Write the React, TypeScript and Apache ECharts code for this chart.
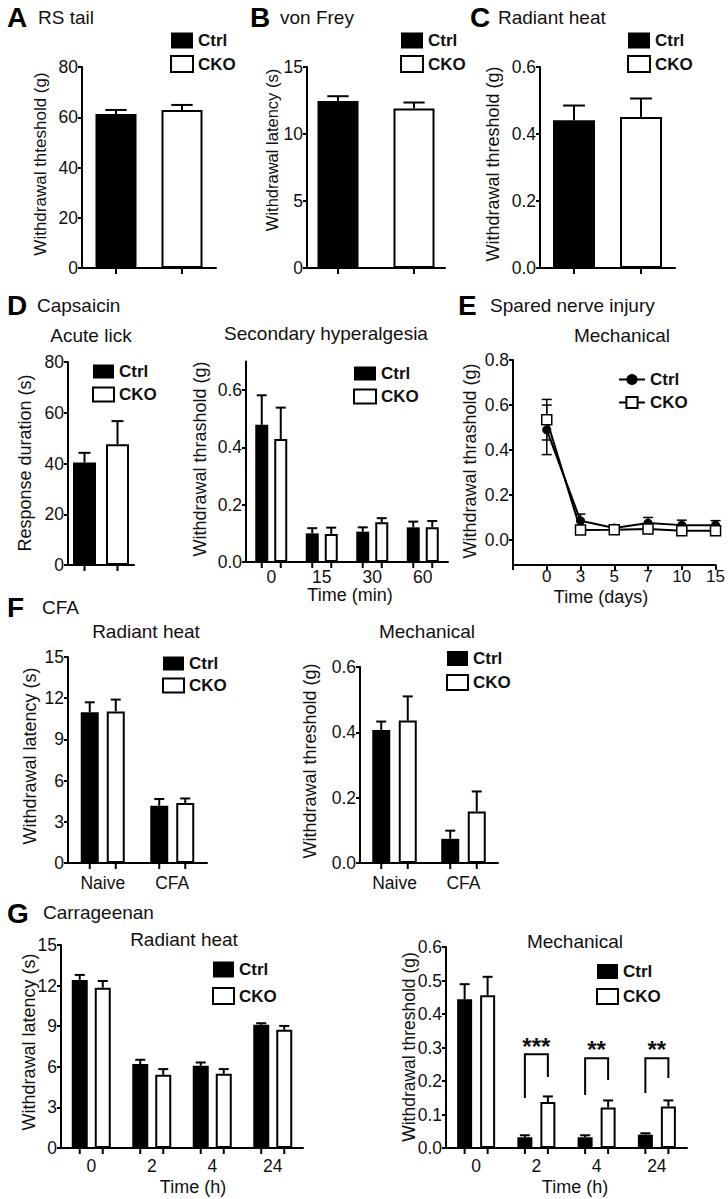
import React, { useEffect, useRef } from "react";
import * as echarts from "echarts";

const FONT = '"Liberation Sans", Arial, Helvetica, sans-serif';
const INK = "#111";

// ---------------- data ----------------
// A  RS tail
const rsTailCtrl = [61.3];
const rsTailCtrlSem = [1.6];
const rsTailCko = [62.9];
const rsTailCkoSem = [2.0];
// B  von Frey
const vonFreyCtrl = [12.47];
const vonFreyCtrlSem = [0.35];
const vonFreyCko = [11.9];
const vonFreyCkoSem = [0.45];
// C  Radiant heat
const radiantCtrl = [0.441];
const radiantCtrlSem = [0.044];
const radiantCko = [0.451];
const radiantCkoSem = [0.055];
// D  Capsaicin - acute lick
const lickCtrl = [40.4];
const lickCtrlSem = [3.8];
const lickCko = [47.6];
const lickCkoSem = [9.1];
// D  Capsaicin - secondary hyperalgesia
const secMinutes = ["0", "15", "30", "60"];
const secCtrl = [0.479, 0.1, 0.106, 0.121];
const secCtrlSem = [0.103, 0.018, 0.015, 0.02];
const secCko = [0.429, 0.098, 0.139, 0.121];
const secCkoSem = [0.11, 0.022, 0.014, 0.022];
// E  Spared nerve injury
const sniDays = ["0", "3", "5", "7", "10", "15"];
const sniCtrl = [0.49, 0.086, 0.054, 0.076, 0.067, 0.067];
const sniCtrlSem = [0.11, 0.03, 0.01, 0.025, 0.022, 0.02];
const sniCko = [0.535, 0.045, 0.047, 0.05, 0.042, 0.042];
const sniCkoSem = [0.09, 0.01, 0.01, 0.01, 0.01, 0.01];
// F  CFA
const cfaConditions = ["Naive", "CFA"];
const cfaHeatCtrl = [10.97, 4.17];
const cfaHeatCtrlSem = [0.73, 0.49];
const cfaHeatCko = [11.04, 4.37];
const cfaHeatCkoSem = [0.86, 0.33];
const cfaMechCtrl = [0.407, 0.074];
const cfaMechCtrlSem = [0.026, 0.025];
const cfaMechCko = [0.436, 0.158];
const cfaMechCkoSem = [0.074, 0.061];
// G  Carrageenan
const carrHours = ["0", "2", "4", "24"];
const carrHeatCtrl = [12.42, 6.2, 6.07, 9.1];
const carrHeatCtrlSem = [0.37, 0.32, 0.25, 0.12];
const carrHeatCko = [11.85, 5.41, 5.48, 8.73];
const carrHeatCkoSem = [0.49, 0.42, 0.35, 0.29];
const carrMechCtrl = [0.444, 0.032, 0.032, 0.04];
const carrMechCtrlSem = [0.045, 0.006, 0.006, 0.004];
const carrMechCko = [0.456, 0.137, 0.121, 0.124];
const carrMechCkoSem = [0.055, 0.017, 0.021, 0.018];
// significance brackets (G, mechanical)
const sigCategory = [1, 2, 3];
const sigLabels = ["***", "**", "**"];
const sigLeftBase = [0.149, 0.158, 0.164];
const sigTop = [0.28, 0.268, 0.268];
const sigRightBase = [0.212, 0.203, 0.209];
const sigTextY = [0.316, 0.307, 0.307];

// ---------------- layout ----------------
interface BarPanel {
  cats: string[];
  showCats: boolean;
  ctrl: number[];
  ctrlSem: number[];
  cko: number[];
  ckoSem: number[];
  x0: number;
  x1: number;
  yTop: number;
  yBot: number;
  min: number;
  max: number;
  interval?: number;
  ticks?: number[];
  dec: number;
  barW: number;
  gap: number;
  labelMargin: number;
  legend: number[]; // left, top, itemW, itemH, itemGap
}

const barPanels: BarPanel[] = [
  { cats: [""], showCats: false, ctrl: rsTailCtrl, ctrlSem: rsTailCtrlSem, cko: rsTailCko, ckoSem: rsTailCkoSem,
    x0: 82, x1: 216, yTop: 67, yBot: 268, min: 0, max: 80, interval: 20, dec: 0, barW: 41, gap: 25, labelMargin: 8,
    legend: [170, 32, 22, 16, 6] },
  { cats: [""], showCats: false, ctrl: vonFreyCtrl, ctrlSem: vonFreyCtrlSem, cko: vonFreyCko, ckoSem: vonFreyCkoSem,
    x0: 307, x1: 445, yTop: 67, yBot: 268, min: 0, max: 15, interval: 5, dec: 0, barW: 41, gap: 35, labelMargin: 8,
    legend: [400, 32, 22, 16, 6] },
  { cats: [""], showCats: false, ctrl: radiantCtrl, ctrlSem: radiantCtrlSem, cko: radiantCko, ckoSem: radiantCkoSem,
    x0: 540, x1: 675, yTop: 67, yBot: 268, min: 0, max: 0.6, interval: 0.2, dec: 1, barW: 42, gap: 25, labelMargin: 8,
    legend: [627, 32, 22, 16, 6] },
  { cats: [""], showCats: false, ctrl: lickCtrl, ctrlSem: lickCtrlSem, cko: lickCko, ckoSem: lickCkoSem,
    x0: 68, x1: 134, yTop: 362, yBot: 565, min: 0, max: 80, interval: 20, dec: 0, barW: 23, gap: 10, labelMargin: 8,
    legend: [92, 363, 21, 14, 6] },
  { cats: secMinutes, showCats: true, ctrl: secCtrl, ctrlSem: secCtrlSem, cko: secCko, ckoSem: secCkoSem,
    x0: 246, x1: 448, yTop: 361.5, yBot: 562, min: 0, max: 0.7, ticks: [0, 0.2, 0.4, 0.6], dec: 1, barW: 13, gap: 6,
    labelMargin: 6, legend: [353, 365, 22, 14, 6] },
  { cats: cfaConditions, showCats: true, ctrl: cfaHeatCtrl, ctrlSem: cfaHeatCtrlSem, cko: cfaHeatCko, ckoSem: cfaHeatCkoSem,
    x0: 68, x1: 207, yTop: 657, yBot: 863, min: 0, max: 15, interval: 3, dec: 0, barW: 18, gap: 8, labelMargin: 11,
    legend: [162, 655, 21, 14, 5] },
  { cats: cfaConditions, showCats: true, ctrl: cfaMechCtrl, ctrlSem: cfaMechCtrlSem, cko: cfaMechCko, ckoSem: cfaMechCkoSem,
    x0: 360, x1: 498, yTop: 667, yBot: 863, min: 0, max: 0.6, interval: 0.2, dec: 1, barW: 18, gap: 8.5, labelMargin: 11,
    legend: [446, 650, 21, 15, 7] },
  { cats: carrHours, showCats: true, ctrl: carrHeatCtrl, ctrlSem: carrHeatCtrlSem, cko: carrHeatCko, ckoSem: carrHeatCkoSem,
    x0: 61, x1: 303, yTop: 945, yBot: 1148, min: 0, max: 15, interval: 3, dec: 0, barW: 16, gap: 7, labelMargin: 9,
    legend: [212, 961, 21, 16, 9] },
  { cats: carrHours, showCats: true, ctrl: carrMechCtrl, ctrlSem: carrMechCtrlSem, cko: carrMechCko, ckoSem: carrMechCkoSem,
    x0: 446, x1: 687, yTop: 947, yBot: 1148, min: 0, max: 0.6, interval: 0.1, dec: 1, barW: 15, gap: 8, labelMargin: 9,
    legend: [596, 963, 21, 15, 8] },
];

const letters: [string, number, number][] = [
  ["A", 7, 17], ["B", 250, 17], ["C", 470, 17], ["D", 7, 305], ["E", 458, 305], ["F", 7, 607], ["G", 7, 913],
];
const panelTitles: [string, number, number][] = [
  ["RS tail", 38, 17], ["von Frey", 280, 17], ["Radiant heat", 498, 17], ["Capsaicin", 37, 305],
  ["Spared nerve injury", 490, 305], ["CFA", 42, 607], ["Carrageenan", 43, 912],
];
const subTitles: [string, number, number][] = [
  ["Acute lick", 91, 335], ["Secondary hyperalgesia", 326, 333], ["Mechanical", 622, 335],
  ["Radiant heat", 146, 631], ["Mechanical", 427, 631], ["Radiant heat", 184, 939], ["Mechanical", 575, 941],
];
const yNames: [string, number, number, number][] = [
  ["Withdrawal thteshold (g)", 40, 164, 17], ["Withdrawal latency (s)", 272, 150, 16.5],
  ["Withdrawal threshold (g)", 493, 164, 18], ["Response duration (s)", 25, 463, 18],
  ["Withdrawal thrashold (g)", 200, 459, 18], ["Withdrawal thrashold (g)", 470, 461, 18],
  ["Withdrawal latency (s)", 30, 756, 18], ["Withdrawal threshold (g)", 310, 761, 18],
  ["Withdrawal latency (s)", 29, 1042, 18], ["Withdrawal threshold (g)", 409, 1047, 17.5],
];
const xNames: [string, number, number][] = [
  ["Time (min)", 350, 595], ["Time (days)", 601, 597], ["Time (h)", 193, 1187], ["Time (h)", 575, 1187],
];

const lineSt = { color: "#000", width: 2 };
const tickFont = { fontFamily: FONT, fontSize: 17.5, color: INK };

function buildOption() {
  const grid: any[] = [];
  const xAxis: any[] = [];
  const yAxis: any[] = [];
  const series: any[] = [];
  const legend: any[] = [];
  const graphic: any[] = [];

  barPanels.forEach((p, i) => {
    grid.push({ left: p.x0, top: p.yTop, width: p.x1 - p.x0, height: p.yBot - p.yTop, containLabel: false });
    xAxis.push({
      gridIndex: i, type: "category", data: p.cats,
      axisLine: { show: true, onZero: false, lineStyle: lineSt },
      axisTick: { show: false },
      axisLabel: { show: p.showCats, interval: 0, margin: p.labelMargin, ...tickFont },
      splitLine: { show: false },
    });
    const ya: any = {
      gridIndex: i, type: "value", min: p.min, max: p.max,
      axisLine: { show: true, lineStyle: lineSt },
      axisTick: { show: true, length: 4, lineStyle: lineSt },
      axisLabel: { margin: 4, ...tickFont, formatter: (v: number) => v.toFixed(p.dec) },
      splitLine: { show: false },
    };
    if (p.ticks) {
      ya.axisTick.customValues = p.ticks;
      ya.axisLabel.customValues = p.ticks;
    } else {
      ya.interval = p.interval;
    }
    yAxis.push(ya);
    const barGap = `${(p.gap / p.barW) * 100}%`;
    series.push({
      type: "bar", name: "Ctrl", xAxisIndex: i, yAxisIndex: i, data: p.ctrl, barWidth: p.barW, barGap,
      itemStyle: { color: "#000" }, silent: true,
    });
    series.push({
      type: "bar", name: "CKO", xAxisIndex: i, yAxisIndex: i, data: p.cko, barWidth: p.barW, barGap,
      itemStyle: { color: "#fff", borderColor: "#000", borderWidth: 2 }, silent: true,
    });
    const errData: number[][] = [];
    p.ctrl.forEach((v, k) => errData.push([k, v, p.ctrlSem[k], 0]));
    p.cko.forEach((v, k) => errData.push([k, v, p.ckoSem[k], 1]));
    series.push({
      type: "custom", xAxisIndex: i, yAxisIndex: i, data: errData, clip: false, z: 5, silent: true,
      renderItem: (params: any, api: any) => {
        const cat = api.value(0), v = api.value(1), e = api.value(2), s = api.value(3);
        const c = api.coord([cat, v]);
        const t = api.coord([cat, v + e]);
        const b = api.coord([cat, p.min]);
        const x = c[0] + (s === 0 ? -1 : 1) * (p.barW + p.gap) / 2;
        const capHalf = Math.max(5, p.barW * 0.26);
        const st = { stroke: "#000", lineWidth: 2 };
        return {
          type: "group",
          children: [
            { type: "line", shape: { x1: x, y1: c[1], x2: x, y2: t[1] }, style: st },
            { type: "line", shape: { x1: x - capHalf, y1: t[1], x2: x + capHalf, y2: t[1] }, style: st },
            { type: "line", shape: { x1: x, y1: b[1], x2: x, y2: b[1] + 6 }, style: st },
          ],
        };
      },
    });
    const [lx, ly, lw, lh, lg] = p.legend;
    legend.push({
      left: lx, top: ly, orient: "vertical", itemWidth: lw, itemHeight: lh, itemGap: lg, padding: 0,
      selectedMode: false,
      textStyle: { fontFamily: FONT, fontSize: 17, fontWeight: "bold", color: INK },
      data: [
        { name: "Ctrl", icon: "rect", itemStyle: { color: "#000", borderColor: "#000", borderWidth: 0 } },
        { name: "CKO", icon: "rect", itemStyle: { color: "#fff", borderColor: "#000", borderWidth: 2 } },
      ],
    });
  });

  // ---- E: spared nerve injury (line) ----
  const ei = barPanels.length;
  grid.push({ left: 513, top: 360, width: 204, height: 205, containLabel: false });
  xAxis.push({
    gridIndex: ei, type: "category", boundaryGap: false, data: ["", ...sniDays],
    axisLine: { show: true, onZero: false, lineStyle: lineSt },
    axisTick: { show: true, length: 5, lineStyle: lineSt },
    axisLabel: { interval: 0, margin: 3, fontFamily: FONT, fontSize: 17, color: INK },
    splitLine: { show: false },
  });
  const eTicks = [0, 0.2, 0.4, 0.6, 0.8];
  yAxis.push({
    gridIndex: ei, type: "value", min: -0.11, max: 0.8,
    axisLine: { show: true, lineStyle: lineSt },
    axisTick: { show: true, length: 4, lineStyle: lineSt, customValues: eTicks },
    axisLabel: { margin: 4, ...tickFont, customValues: eTicks, formatter: (v: number) => v.toFixed(1) },
    splitLine: { show: false },
  });
  const sniErr: number[][] = [];
  sniCtrl.forEach((v, k) => sniErr.push([k + 1, v, sniCtrlSem[k]]));
  sniCko.forEach((v, k) => sniErr.push([k + 1, v, sniCkoSem[k]]));
  series.push({
    type: "custom", xAxisIndex: ei, yAxisIndex: ei, data: sniErr, clip: false, z: 1, silent: true,
    renderItem: (params: any, api: any) => {
      const cat = api.value(0), v = api.value(1), e = api.value(2);
      const t = api.coord([cat, v + e]);
      const b = api.coord([cat, v - e]);
      const st = { stroke: "#000", lineWidth: 1.5 };
      return {
        type: "group",
        children: [
          { type: "line", shape: { x1: t[0], y1: t[1], x2: b[0], y2: b[1] }, style: st },
          { type: "line", shape: { x1: t[0] - 5, y1: t[1], x2: t[0] + 5, y2: t[1] }, style: st },
          { type: "line", shape: { x1: b[0] - 5, y1: b[1], x2: b[0] + 5, y2: b[1] }, style: st },
        ],
      };
    },
  });
  series.push({
    type: "line", name: "Ctrl (SNI)", xAxisIndex: ei, yAxisIndex: ei, data: ["-", ...sniCtrl],
    symbol: "circle", symbolSize: 9, itemStyle: { color: "#000" }, lineStyle: { color: "#000", width: 2 },
    z: 3, silent: true,
  });
  series.push({
    type: "line", name: "CKO (SNI)", xAxisIndex: ei, yAxisIndex: ei, data: ["-", ...sniCko],
    symbol: "rect", symbolSize: 10, itemStyle: { color: "#fff", borderColor: "#000", borderWidth: 1.5 },
    lineStyle: { color: "#000", width: 2 }, z: 4, silent: true,
  });
  legend.push({
    left: 618, top: 371, orient: "vertical", itemWidth: 26, itemHeight: 14, itemGap: 6, padding: 0,
    selectedMode: false,
    formatter: (n: string) => n.split(" ")[0],
    textStyle: { fontFamily: FONT, fontSize: 17, fontWeight: "bold", color: INK },
    data: [{ name: "Ctrl (SNI)" }, { name: "CKO (SNI)" }],
  });

  // ---- significance brackets on G mechanical ----
  const gm = barPanels[barPanels.length - 1];
  const gmi = barPanels.length - 1;
  series.push({
    type: "custom", xAxisIndex: gmi, yAxisIndex: gmi, clip: false, z: 6, silent: true,
    data: sigCategory.map((c, k) => [c, sigLeftBase[k], sigTop[k], sigRightBase[k], sigTextY[k]]),
    renderItem: (params: any, api: any) => {
      const cat = api.value(0);
      const off = (gm.barW + gm.gap) / 2;
      const top = api.coord([cat, api.value(2)]);
      const yl = api.coord([cat, api.value(1)])[1];
      const yr = api.coord([cat, api.value(3)])[1];
      const ys = api.coord([cat, api.value(4)])[1];
      const xl = top[0] - off, xr = top[0] + off;
      return {
        type: "group",
        children: [
          {
            type: "polyline",
            shape: { points: [[xl, yl], [xl, top[1]], [xr, top[1]], [xr, yr]] },
            style: { stroke: "#000", lineWidth: 2, fill: null },
          },
          {
            type: "text",
            style: {
              text: sigLabels[params.dataIndex], x: top[0], y: ys + 4, align: "center", verticalAlign: "middle",
              font: `bold 24px ${FONT}`, fill: INK,
            },
          },
        ],
      };
    },
  });

  // ---- texts ----
  letters.forEach(([t, x, y]) =>
    graphic.push({ type: "text", x, y, silent: true,
      style: { text: t, x: 0, y: 0, align: "left", verticalAlign: "middle", font: `bold 28px ${FONT}`, fill: "#000" } })
  );
  panelTitles.forEach(([t, x, y]) =>
    graphic.push({ type: "text", x, y, silent: true,
      style: { text: t, x: 0, y: 0, align: "left", verticalAlign: "middle", font: `19px ${FONT}`, fill: INK } })
  );
  subTitles.forEach(([t, x, y]) =>
    graphic.push({ type: "text", x, y, silent: true,
      style: { text: t, x: 0, y: 0, align: "center", verticalAlign: "middle", font: `19px ${FONT}`, fill: INK } })
  );
  yNames.forEach(([t, x, y, s]) =>
    graphic.push({ type: "text", x, y, rotation: Math.PI / 2, silent: true,
      style: { text: t, x: 0, y: 0, align: "center", verticalAlign: "middle", font: `${s}px ${FONT}`, fill: INK } })
  );
  xNames.forEach(([t, x, y]) =>
    graphic.push({ type: "text", x, y, silent: true,
      style: { text: t, x: 0, y: 0, align: "center", verticalAlign: "middle", font: `18px ${FONT}`, fill: INK } })
  );

  return {
    animation: false,
    backgroundColor: "#fff",
    grid, xAxis, yAxis, series, legend, graphic,
  };
}

export default function App() {
  const ref = useRef<HTMLDivElement>(null);
  useEffect(() => {
    document.body.style.margin = "0";
    const chart = echarts.init(ref.current as HTMLDivElement, null, { renderer: "svg" });
    chart.setOption(buildOption() as any);
    return () => chart.dispose();
  }, []);
  return <div ref={ref} style={{ width: 728, height: 1199, background: "#fff" }} />;
}
